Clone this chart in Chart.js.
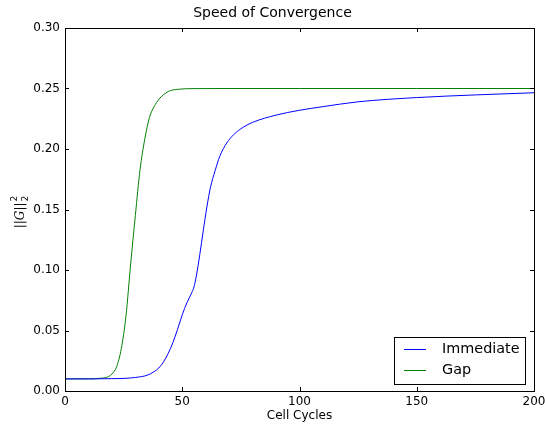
<!DOCTYPE html>
<html>
<head>
<meta charset="utf-8">
<script src="https://cdn.jsdelivr.net/npm/chart.js@4/dist/chart.umd.min.js"></script>
<style>
    html, body { margin: 0; padding: 0; background: #fff; }
    #wrap { width: 545px; height: 425px; }
</style>
</head>
<body>
<div id="wrap"><canvas id="convergenceChart" width="545" height="425"></canvas></div>
<script>
// Series
var immediateX = [0, 10, 20, 26, 30, 35, 38, 40, 42, 44, 46, 48, 50, 52, 54, 55, 56, 57.5, 59, 60.5, 62, 64, 66, 69, 72, 76, 80, 90, 100, 110, 125, 150, 175, 200];
var immediateY = [0.010, 0.010, 0.0102, 0.0105, 0.0112, 0.013, 0.016, 0.019, 0.024, 0.031, 0.040, 0.051, 0.063, 0.073, 0.081, 0.086, 0.095, 0.113, 0.133, 0.152, 0.168, 0.182, 0.194, 0.205, 0.212, 0.218, 0.222, 0.228, 0.232, 0.235, 0.239, 0.2425, 0.2447, 0.2465];

var gapX = [0, 10, 15, 18, 20, 22, 24, 26, 28, 30, 32, 34, 36, 38, 40, 44, 48, 55, 70, 100, 150, 200];
var gapY = [0.010, 0.010, 0.0105, 0.0115, 0.014, 0.020, 0.035, 0.062, 0.105, 0.145, 0.183, 0.208, 0.226, 0.235, 0.241, 0.2475, 0.2493, 0.2499, 0.25, 0.25, 0.25, 0.25];

var seriesNames = ["Immediate", "Gap"];
var seriesColors = ["#0000ff", "#008000"];

var xTicks = [0, 50, 100, 150, 200];
var yTicks = [0, 0.05, 0.10, 0.15, 0.20, 0.25, 0.30];

var chartFont = "'DejaVu Sans', sans-serif";

function toPoints(xs, ys)
{
    return xs.map(function (x, i) { return {x: x, y: ys[i]}; });
}

// Frame, inward ticks, y label and legend, matplotlib style
var decorPlugin = {
    id: "decor",
    afterDraw: function (chart)
    {
        var ctx = chart.ctx;
        var area = chart.chartArea;
        var xs = chart.scales.x;
        var ys = chart.scales.y;
        var tickLen = 4;

        ctx.save();
        ctx.strokeStyle = "#000";
        ctx.lineWidth = 1;
        ctx.strokeRect(Math.round(area.left) + 0.5, Math.round(area.top) + 0.5,
            Math.round(area.right - area.left), Math.round(area.bottom - area.top));

        ctx.beginPath();
        xTicks.forEach(function (v)
        {
            var px = Math.round(xs.getPixelForValue(v)) + 0.5;
            ctx.moveTo(px, area.bottom);
            ctx.lineTo(px, area.bottom - tickLen);
            ctx.moveTo(px, area.top);
            ctx.lineTo(px, area.top + tickLen);
        });
        yTicks.forEach(function (v)
        {
            var py = Math.round(ys.getPixelForValue(v)) + 0.5;
            ctx.moveTo(area.left, py);
            ctx.lineTo(area.left + tickLen, py);
            ctx.moveTo(area.right, py);
            ctx.lineTo(area.right - tickLen, py);
        });
        ctx.stroke();

        // y label: ||G||_2^2
        ctx.translate(21, 212);
        ctx.rotate(-Math.PI / 2);
        ctx.fillStyle = "#000";
        ctx.textBaseline = "middle";
        var parts = [
            {t: "||", f: "12px " + chartFont},
            {t: "G", f: "italic 12px 'DejaVu Serif', serif"},
            {t: "||", f: "12px " + chartFont}
        ];
        var total = 0;
        parts.forEach(function (p) { ctx.font = p.f; p.w = ctx.measureText(p.t).width; total += p.w; });
        ctx.font = "9px " + chartFont;
        var small = ctx.measureText("2").width;
        total += small + 1;
        var cx = -total / 2;
        parts.forEach(function (p)
        {
            ctx.font = p.f;
            ctx.textAlign = "left";
            ctx.fillText(p.t, cx, 0);
            cx += p.w;
        });
        ctx.font = "9px " + chartFont;
        ctx.fillText("2", cx + 1, -6);
        ctx.fillText("2", cx + 1, 5);
        ctx.restore();

        // legend box
        ctx.save();
        var bx = 394.5, by = 337.5, bw = 131, bh = 47;
        ctx.fillStyle = "#fff";
        ctx.fillRect(bx, by, bw, bh);
        ctx.strokeStyle = "#000";
        ctx.lineWidth = 1;
        ctx.strokeRect(bx, by, bw, bh);
        ctx.font = "14.4px " + chartFont;
        ctx.textBaseline = "middle";
        ctx.textAlign = "left";
        chart.data.datasets.forEach(function (ds, i)
        {
            var ly = 349.5 + i * 21;
            ctx.strokeStyle = ds.borderColor;
            ctx.beginPath();
            ctx.moveTo(404, ly);
            ctx.lineTo(426, ly);
            ctx.stroke();
            ctx.fillStyle = "#000";
            ctx.fillText(ds.label, 442, ly);
        });
        ctx.restore();
    }
};

new Chart(document.getElementById("convergenceChart"), {
    type:    "line",
    data:    {
        datasets: [
            {
                label:       seriesNames[0],
                data:        toPoints(immediateX, immediateY),
                borderColor: seriesColors[0],
                borderWidth: 1,
                pointRadius: 0,
                fill:        false,
                cubicInterpolationMode: "monotone"
            },
            {
                label:       seriesNames[1],
                data:        toPoints(gapX, gapY),
                borderColor: seriesColors[1],
                borderWidth: 1,
                pointRadius: 0,
                fill:        false,
                cubicInterpolationMode: "monotone"
            }
        ]
    },
    options: {
        responsive: false,
        animation:  false,
        layout:     {
            padding: {left: 0, right: 0, top: 0, bottom: 0}
        },
        plugins:    {
            legend:  {display: false},
            tooltip: {enabled: false},
            title:   {
                display: true,
                text:    "Speed of Convergence",
                color:   "#000",
                font:    {family: chartFont, size: 14, weight: "normal"},
                padding: {top: 5, bottom: 6.2}
            }
        },
        scales:     {
            x: {
                type:   "linear",
                min:    0,
                max:    200,
                grid:   {display: false, drawTicks: false},
                border: {display: false},
                afterBuildTicks: function (s) { s.ticks = xTicks.map(function (v) { return {value: v}; }); },
                afterFit: function (s)
                {
                    s.height = 34;
                    s.paddingLeft = 0;
                    s.paddingRight = 11;
                },
                ticks:  {
                    color:   "#000",
                    padding: 4,
                    font:    {family: chartFont, size: 12},
                    callback: function (v) { return String(v); }
                },
                title:  {
                    display: true,
                    text:    "Cell Cycles",
                    color:   "#000",
                    font:    {family: chartFont, size: 12},
                    padding: {top: 0, bottom: 2}
                }
            },
            y: {
                type:   "linear",
                min:    0,
                max:    0.30,
                grid:   {display: false, drawTicks: false},
                border: {display: false},
                afterBuildTicks: function (s) { s.ticks = yTicks.map(function (v) { return {value: v}; }); },
                afterFit: function (s) { s.width = 65; },
                ticks:  {
                    color:   "#000",
                    padding: 5,
                    font:    {family: chartFont, size: 12},
                    callback: function (v) { return Number(v).toFixed(2); }
                }
            }
        }
    },
    plugins: [decorPlugin]
});
</script>
</body>
</html>
